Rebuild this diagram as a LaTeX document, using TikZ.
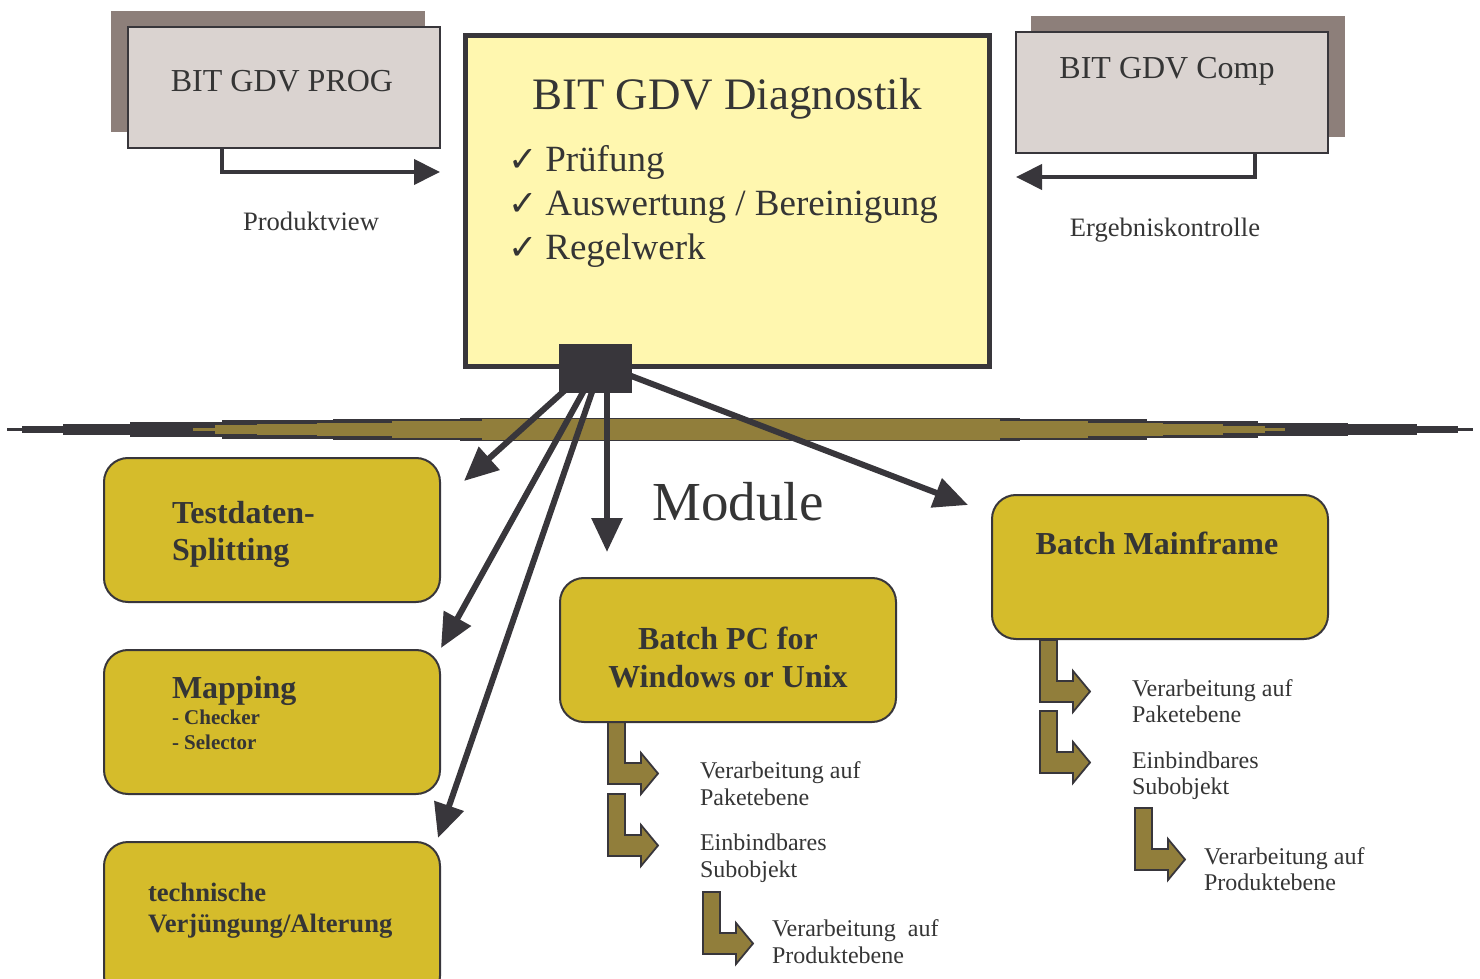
\documentclass[tikz,border=0pt]{standalone}
\usepackage{fontspec}
\setmainfont{Liberation Serif}
\newfontfamily\dejavu{DejaVu Sans}
\usetikzlibrary{arrows.meta,calc}
\definecolor{ink}{HTML}{38363B}
\definecolor{textc}{HTML}{353535}
\definecolor{paleyel}{HTML}{FFF7AF}
\definecolor{gold}{HTML}{D5BC2B}
\definecolor{olive}{HTML}{917E3B}
\definecolor{boxgrey}{HTML}{DAD3D0}
\definecolor{shadowc}{HTML}{8D7F7A}
\begin{document}
\begin{tikzpicture}[x=0.5pt,y=-0.5pt,
  lbl/.style={text=textc,inner sep=0pt,outer sep=0pt},
  topbox/.style={draw=ink,line width=1pt,fill=boxgrey,minimum width=156pt,minimum height=60.5pt,inner sep=0pt},
  shadowbox/.style={fill=shadowc,minimum width=157pt,minimum height=60.5pt,inner sep=0pt},
  mainbox/.style={draw=ink,line width=2.5pt,fill=paleyel,minimum width=262pt,minimum height=165.5pt,inner sep=0pt},
  module/.style={draw=ink,line width=1pt,fill=gold,rounded corners=12pt,minimum width=168pt,minimum height=72pt,inner sep=0pt},
  modarr/.style={draw=ink,line width=3pt,-{Triangle[length=17pt,width=15pt]}},
  toparr/.style={draw=ink,line width=2pt,-{Triangle[length=13pt,width=12.5pt]}},
  bentarr/.style={fill=olive,draw=ink,line width=0.9pt,line join=miter},
  modtxt/.style={lbl,font=\bfseries\fontsize{16}{19}\selectfont},
  smalltxt/.style={lbl,font=\fontsize{12}{14}\selectfont},
  chk/.style={lbl,font=\fontsize{18.5}{22}\selectfont,anchor=base west}
]
\useasboundingbox (0,0) rectangle (1480,979);
\clip (0,0) rectangle (1480,979);

% top left box
\node[shadowbox] (progsh) at (268,71.5) {};
\node[topbox] (prog) at (284,87.5) {};
\node[lbl,font=\fontsize{16}{19}\selectfont,anchor=base] (progt) at (282,92) {BIT GDV PROG};
\coordinate (pvtip) at (440,172);
\draw[toparr] ($(prog.south west)+(95,0)$) |- (pvtip);
\node[lbl,font=\fontsize{13.3}{16}\selectfont,anchor=base] (pv) at (311,231) {Produktview};

% top right box
\node[shadowbox] (compsh) at (1188,76.5) {};
\node[topbox] (comp) at (1172,93) {};
\node[lbl,font=\fontsize{16}{19}\selectfont,anchor=base] (compt) at (1167,79) {BIT GDV Comp};
\coordinate (ektip) at (1016,177);
\draw[toparr] ($(comp.south west)+(240,0)$) |- (ektip);
\node[lbl,font=\fontsize{13.3}{16}\selectfont,anchor=base] (ek) at (1165,236) {Ergebniskontrolle};

% main box
\node[mainbox] (main) at (727.5,201) {};
\node[lbl,font=\fontsize{22.5}{27}\selectfont,anchor=base] (mt) at (727,110) {BIT GDV Diagnostik};
\node[chk] (c1) at (508,172) {{\dejavu\fontsize{17.5}{20}\selectfont ✓}\hspace{4pt}Prüfung};
\node[chk] (c2) at (508,216) {{\dejavu\fontsize{17.5}{20}\selectfont ✓}\hspace{4pt}Auswertung / Bereinigung};
\node[chk] (c3) at (508,260) {{\dejavu\fontsize{17.5}{20}\selectfont ✓}\hspace{4pt}Regelwerk};

% lightning band
\foreach \a/\b/\h in {7/22/1.2, 22/63/3.3, 63/130/5.5, 130/222/7.8, 222/333/9.2, 333/460/10.5, 460/1020/11.7, 1020/1147/10.2, 1147/1258/8.8, 1258/1348/6.8, 1348/1417/5.3, 1417/1458/3.7, 1458/1473/1.2}
  \fill[ink] (\a,429.5-\h) rectangle (\b,429.5+\h);
\foreach \a/\b/\h in {193/215/1.2, 215/257/4.2, 257/317/5.2, 317/392/6.7, 392/482/8.4, 482/1000/10.4, 1000/1088/8.3, 1088/1163/6.7, 1163/1223/5.2, 1223/1265/3.7, 1265/1285/1.2}
  \fill[olive] (\a,429.5-\h) rectangle (\b,429.5+\h);

% bent arrows
\foreach \sx/\sy in {608/722, 608/794, 703/892, 1040/640, 1040/711, 1135/808}
  \draw[bentarr,shift={(\sx,\sy)}] (0,0) -- (17,0) -- (17,41) -- (33,41) -- (33,31) -- (50,51.5) -- (33,72) -- (33,62) -- (0,62) -- cycle;

% modules
\node[module] (ts) at (272,530) {};
\node[module] (mp) at (272,722) {};
\node[module,minimum height=79pt] (tv) at (272,921) {};
\node[module] (pc) at (728,650) {};
\node[module] (mf) at (1160,567) {};

\node[modtxt,anchor=base west] (ts1) at (172,523) {Testdaten-};
\node[modtxt,anchor=base west] (ts2) at (172,560) {Splitting};
\node[modtxt,anchor=base west] (mp1) at (172,698) {Mapping};
\node[lbl,font=\bfseries\fontsize{10.5}{12.5}\selectfont,anchor=base west] (mp2) at (172,724) {- Checker};
\node[lbl,font=\bfseries\fontsize{10.5}{12.5}\selectfont,anchor=base west] (mp3) at (172,749) {- Selector};
\node[lbl,font=\bfseries\fontsize{13.3}{16}\selectfont,anchor=base west] (tv1) at (148,901) {technische};
\node[lbl,font=\bfseries\fontsize{13.3}{16}\selectfont,anchor=base west] (tv2) at (148,932) {Verjüngung/Alterung};
\node[modtxt,anchor=base] (pc1) at (728,649) {Batch PC for};
\node[modtxt,anchor=base] (pc2) at (728,687) {Windows or Unix};
\node[modtxt,anchor=base] (mf1) at (1157,554) {Batch Mainframe};

\node[lbl,font=\fontsize{27.5}{33}\selectfont,anchor=base] (mod) at (738,520) {Module};

% bent arrow texts
\node[smalltxt,anchor=base west] at (700,778) {Verarbeitung auf};
\node[smalltxt,anchor=base west] at (700,805) {Paketebene};
\node[smalltxt,anchor=base west] at (700,850) {Einbindbares};
\node[smalltxt,anchor=base west] at (700,877) {Subobjekt};
\node[smalltxt,anchor=base west] at (772,936) {Verarbeitung\hspace{3pt} auf};
\node[smalltxt,anchor=base west] at (772,963) {Produktebene};
\node[smalltxt,anchor=base west] at (1132,696) {Verarbeitung auf};
\node[smalltxt,anchor=base west] at (1132,722) {Paketebene};
\node[smalltxt,anchor=base west] at (1132,768) {Einbindbares};
\node[smalltxt,anchor=base west] at (1132,794) {Subobjekt};
\node[smalltxt,anchor=base west] at (1204,864) {Verarbeitung auf};
\node[smalltxt,anchor=base west] at (1204,890) {Produktebene};

% hub connectors
\node[fill=ink,minimum width=36.5pt,minimum height=24.5pt,inner sep=0pt] (sq) at (595.5,368.5) {};
\coordinate (s1) at (583,374);
\coordinate (s2) at (597,367);
\coordinate (s3) at (601,366);
\coordinate (s4) at (607,370);
\coordinate (s5) at (600,364);
\coordinate (t1) at (464,481);
\coordinate (t2) at (441,648);
\coordinate (t3) at (438,838);
\coordinate (t4) at (607,552);
\coordinate (t5) at (968,505);
\foreach \i in {1,...,5} \draw[modarr] (s\i) -- (t\i);
\node[fill=ink,minimum width=36.5pt,minimum height=24.5pt,inner sep=0pt] (sqtop) at (sq.center) {};
\end{tikzpicture}
\end{document}
